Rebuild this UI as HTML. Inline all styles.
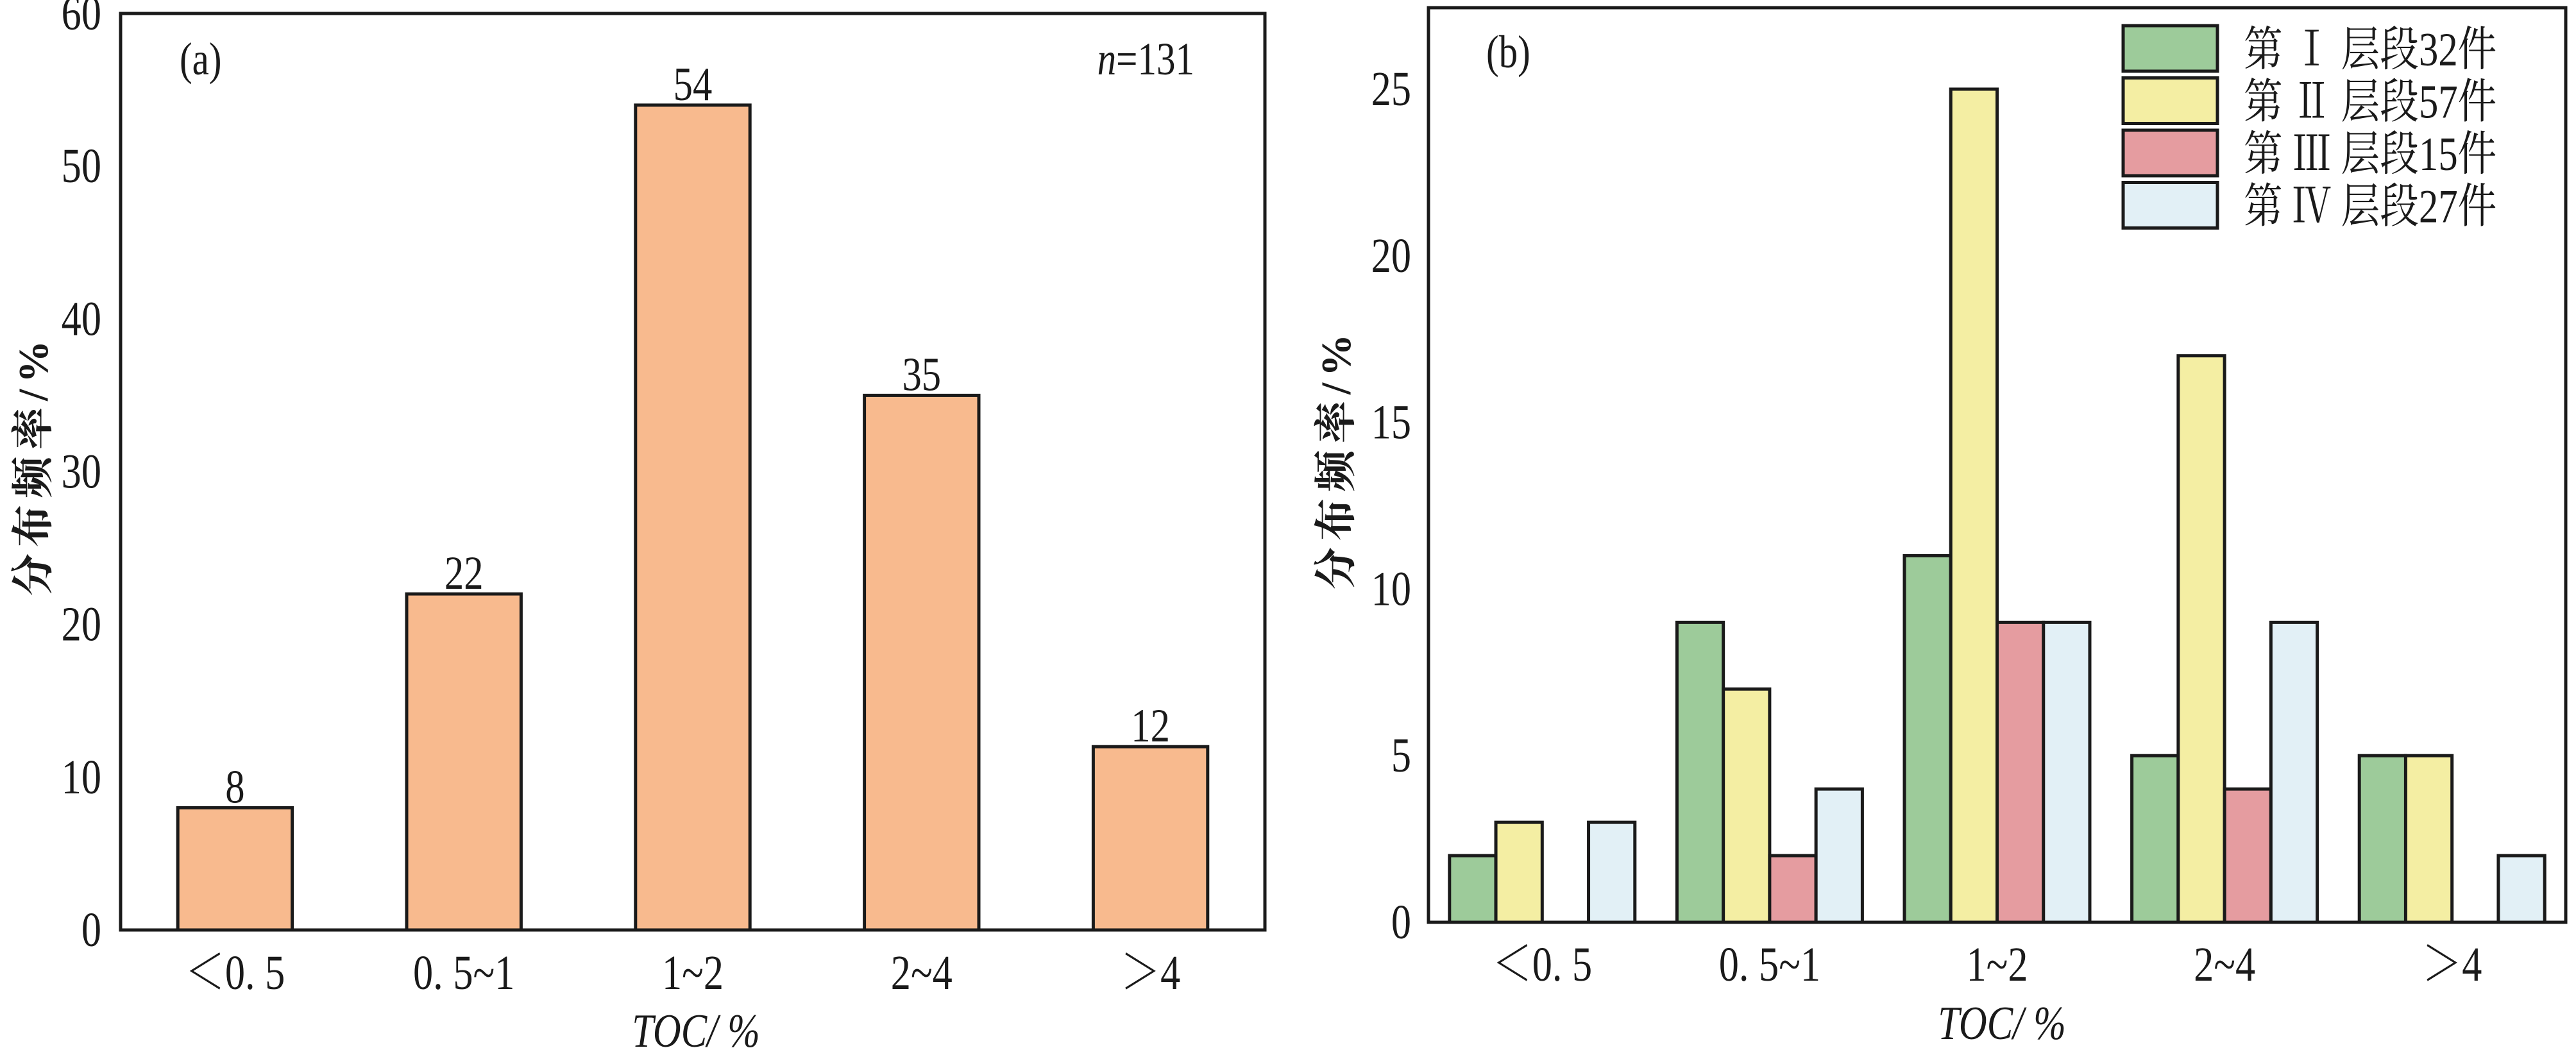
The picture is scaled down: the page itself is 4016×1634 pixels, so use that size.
<!DOCTYPE html>
<html><head><meta charset="utf-8">
<style>
html,body{margin:0;padding:0;background:#fff;}
svg{display:block;}
text{font-family:"Liberation Serif","Noto Serif CJK SC",serif;fill:#1a1a1a;}
</style></head>
<body>
<svg id="chart" width="4016" height="1634" viewBox="0 0 4016 1634" xmlns="http://www.w3.org/2000/svg">
<g id="pa"></g>
<g id="pb"></g>
</svg>
<script>
const categories = ["＜0. 5", "0. 5~1", "1~2", "2~4", "＞4"];
const totalValues = [8, 22, 54, 35, 12];
const yTicksA = [0, 10, 20, 30, 40, 50, 60];
const seriesNames = ["第 Ⅰ 层段32件", "第 Ⅱ 层段57件", "第 Ⅲ 层段15件", "第 Ⅳ 层段27件"];
const series1 = [2, 9, 11, 5, 5];
const series2 = [3, 7, 25, 17, 5];
const series3 = [0, 2, 9, 4, 0];
const series4 = [3, 4, 9, 9, 2];
const yTicksB = [0, 5, 10, 15, 20, 25];

const NS = "http://www.w3.org/2000/svg";
const SX = 0.82;
function mk(parent, tag, attrs, txt) {
  const e = document.createElementNS(NS, tag);
  for (const k in attrs) e.setAttribute(k, attrs[k]);
  if (txt !== undefined) e.textContent = txt;
  parent.appendChild(e);
  return e;
}
function ctext(parent, x, y, size, anchor, txt, extra) {
  const a = {x: x / SX, y: y, "font-size": size, "text-anchor": anchor, transform: "scale(" + SX + ",1)"};
  if (extra) for (const k in extra) a[k] = extra[k];
  return mk(parent, "text", a, txt);
}
const colors = ["#9dcb9a", "#f4eea3", "#e59ca0", "#e2f0f6"];

// Panel A
(function(){
  const g = document.getElementById("pa");
  const L = 188, R = 1972, T = 21, B = 1450, ymax = 60;
  const band = (R - L) / categories.length;
  const y = v => B - v / ymax * (B - T);
  const x = i => L + band * (i + 0.5);
  totalValues.forEach((v, i) => {
    const w = band * 0.5;
    const r = mk(g, "rect", {x: x(i) - w/2, y: y(v), width: w, height: B - y(v), fill: "#f8ba8e", stroke: "#1a1a1a", "stroke-width": 5});
    
    
    const t = ctext(g, x(i), y(v) - 8, 74, "middle", String(v));
    
    
  });
  const ax = mk(g, "rect", {x: L, y: T, width: R - L, height: B - T, fill: "none", stroke: "#1a1a1a", "stroke-width": 5});
  
  
  yTicksA.forEach(v => {
    const t = ctext(g, 158, y(v) + 25, 76, "end", String(v));
    
    
  });
  categories.forEach((c, i) => {
    const t = ctext(g, x(i), 1542, 76, "middle", c);
    
    
  });
  const xl = ctext(g, 1085, 1632, 74, "middle", "TOC/ %", {"font-style": "italic"});
  
  
  const yl = mk(g, "text", {x: 0, y: 0, "font-size": 66, "font-weight": "bold", "letter-spacing": 10, "text-anchor": "middle", transform: "translate(74,725) rotate(-90)"}, "分布频率/%");
  
  
  const pl = ctext(g, 280, 116, 72, "start", "(a)");
  
  
  const n = ctext(g, 1862, 116, 72, "end", "");
  
  
  mk(n, "tspan", {"font-style": "italic"}, "n");
  mk(n, "tspan", {}, "=131");
})();

// Panel B
(function(){
  const g = document.getElementById("pb");
  const L = 2227, R = 4000, T = 12, B = 1438;
  const unit = (B - 139) / 25;
  const y = v => B - v * unit;
  const band = (R - L) / categories.length;
  const gw = band * 0.815, bw = gw / 4;
  const all = [series1, series2, series3, series4];
  all.forEach((s, si) => {
    s.forEach((v, i) => {
      if (v <= 0) return;
      const x0 = L + band * (i + 0.5) - gw/2 + si * bw;
      const r = mk(g, "rect", {x: x0, y: y(v), width: bw, height: B - y(v), fill: colors[si], stroke: "#1a1a1a", "stroke-width": 5});
      
      
    });
  });
  const ax = mk(g, "rect", {x: L, y: T, width: R - L, height: B - T, fill: "none", stroke: "#1a1a1a", "stroke-width": 5});
  
  
  yTicksB.forEach(v => {
    const t = ctext(g, 2200, y(v) + 25, 76, "end", String(v));
    
    
  });
  categories.forEach((c, i) => {
    const t = ctext(g, L + band * (i + 0.5), 1529, 76, "middle", c);
    
    
  });
  const xl = ctext(g, 3121, 1620, 74, "middle", "TOC/ %", {"font-style": "italic"});
  
  
  const yl = mk(g, "text", {x: 0, y: 0, "font-size": 66, "font-weight": "bold", "letter-spacing": 10, "text-anchor": "middle", transform: "translate(2105,715) rotate(-90)"}, "分布频率/%");
  
  
  const pl = ctext(g, 2317, 105, 72, "start", "(b)");
  
  
  seriesNames.forEach((nm, si) => {
    const top = 40 + si * 81.5;
    const r = mk(g, "rect", {x: 3310, y: top, width: 147, height: 71, fill: colors[si], stroke: "#1a1a1a", "stroke-width": 5});
    
    
    const t = ctext(g, 3498, top + 62, 74, "start", nm);
    
    
  });
})();
</script>
</body></html>
